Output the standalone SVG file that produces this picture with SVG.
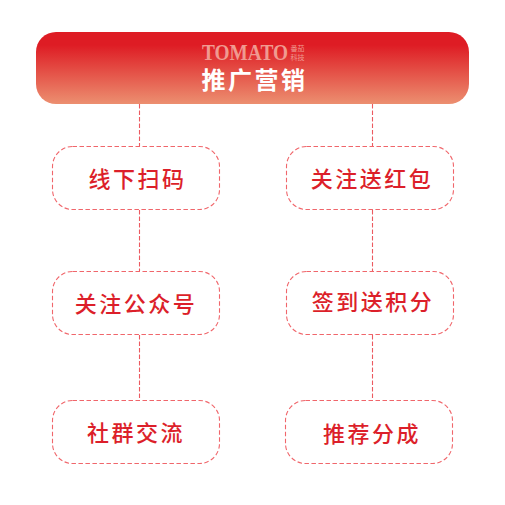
<svg xmlns="http://www.w3.org/2000/svg" width="505" height="505" viewBox="0 0 505 505">
<style>
.n{fill:#fff;stroke:#f0666b;stroke-width:1.100;stroke-dasharray:4.500 2.500}
.c{fill:none;stroke:#ec5a60;stroke-width:1.100;stroke-dasharray:4.500 2}
.t{font-family:"Noto Sans CJK SC","Noto Sans CJK JP",sans-serif;font-weight:500;font-size:22px;fill:#dc1f2a;text-anchor:middle;letter-spacing:2.500px}
.h{font-family:"Noto Sans CJK SC",sans-serif;font-weight:700;font-size:24px;fill:#fff;text-anchor:middle;letter-spacing:2.500px}
.l{font-family:"Liberation Serif",serif;font-weight:700;font-size:24px;fill:#f09a90}
.s{font-family:"Noto Sans CJK SC",sans-serif;font-size:7px;fill:#f09a90}
</style>
<defs><linearGradient id="g" x1="0" y1="0" x2="0" y2="1"><stop offset="0.18" stop-color="#de1c24"/><stop offset="1" stop-color="#ec8f70"/></linearGradient></defs>
<rect width="505" height="505" fill="#fff"/>
<g id="connectors">
<path class="c" d="M139.500 104V146M139.500 210V271M139.500 335V400M372.500 104V146M372.500 210V271M372.500 335V400"/>
</g>
<g id="header">
<rect x="36" y="32" width="433" height="72" rx="20" fill="url(#g)"/>
<text class="l" x="202" y="60" textLength="86" lengthAdjust="spacingAndGlyphs">TOMATO</text>
<text class="s" x="290.500" y="50.500">番茄</text>
<text class="s" x="290.500" y="59.500">科技</text>
<text class="h" x="254.500" y="89">推广营销</text>
</g>
<g id="n1"><rect class="n" x="52.500" y="146.500" width="167" height="63" rx="20"/><text class="t" x="137.500" y="187">线下扫码</text></g>
<g id="n2"><rect class="n" x="286.500" y="146.500" width="167" height="63" rx="20"/><text class="t" x="372" y="187">关注送红包</text></g>
<g id="n3"><rect class="n" x="52.500" y="271.500" width="167" height="63" rx="20"/><text class="t" x="136" y="312">关注公众号</text></g>
<g id="n4"><rect class="n" x="286.500" y="271.500" width="167" height="63" rx="20"/><text class="t" x="373" y="310">签到送积分</text></g>
<g id="n5"><rect class="n" x="52.500" y="400.500" width="167" height="63" rx="20"/><text class="t" x="136" y="441">社群交流</text></g>
<g id="n6"><rect class="n" x="285.500" y="400.500" width="167" height="63" rx="20"/><text class="t" x="372" y="442">推荐分成</text></g>
</svg>
